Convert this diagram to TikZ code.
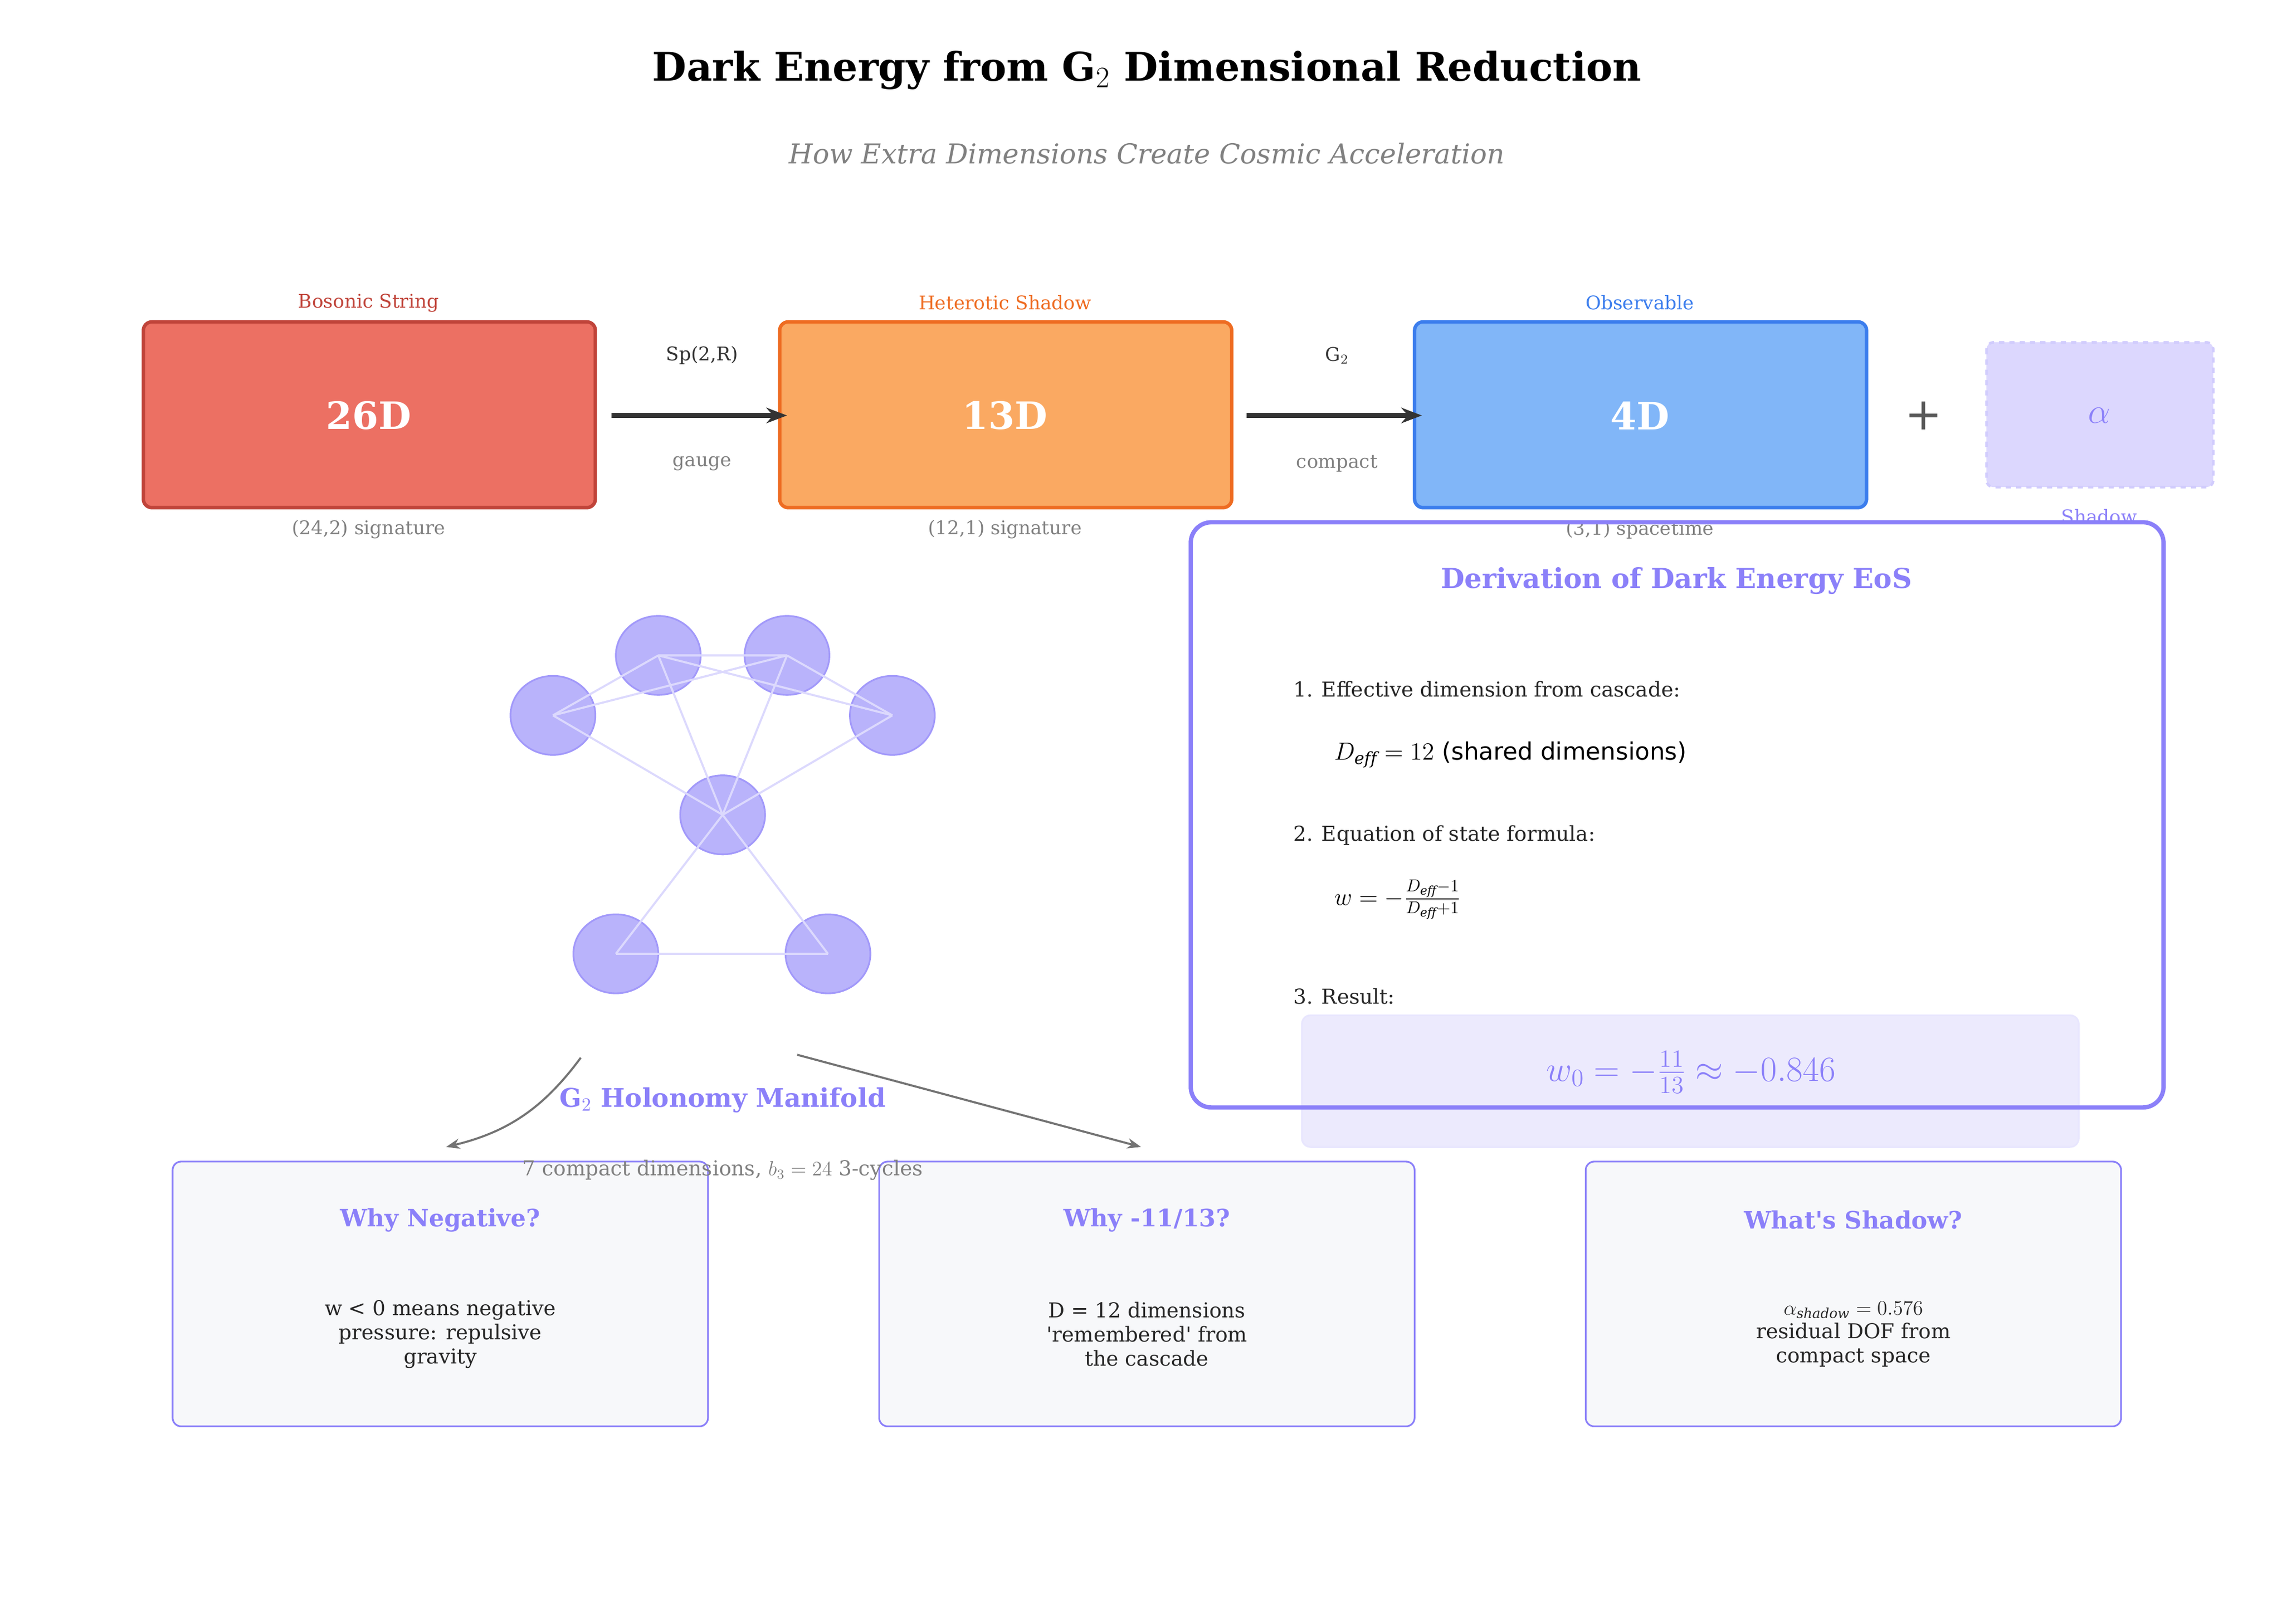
\documentclass[tikz,border=0pt]{standalone}
\usepackage{fontspec}
\setmainfont{DejaVu Serif}
\newfontfamily\dvsans{DejaVu Sans}
\usepackage{amsmath}
\usetikzlibrary{positioning,arrows.meta,shapes.geometric}
\definecolor{ctred}{HTML}{EC7063}
\definecolor{ctredd}{HTML}{C0443A}
\definecolor{ctorg}{HTML}{FAA962}
\definecolor{ctorgd}{HTML}{EE6C22}
\definecolor{ctblue}{HTML}{81B6F8}
\definecolor{ctblued}{HTML}{3B7DED}
\definecolor{ctpur}{HTML}{8B80F9}
\definecolor{ctlav}{HTML}{DCD7FE}
\definecolor{ctres}{HTML}{ECEAFD}
\definecolor{ctgrey}{HTML}{F7F8FA}
\begin{document}
\begin{tikzpicture}[x=0.03cm,y=-0.03cm,
	stage/.style={rounded corners=5pt,line width=2pt},
	tag/.style={font=\fontsize{11}{13}\selectfont},
	small/.style={font=\fontsize{11}{13}\selectfont,text=gray},
	vertex/.style={ellipse,draw=ctpur!80,fill=ctpur!60,line width=1pt,minimum width=1.74cm,minimum height=1.62cm,inner sep=0pt},
	edge/.style={ctpur!30,line width=1.2pt},
	infobox/.style={draw=ctpur,fill=ctgrey,rounded corners=5pt,line width=1pt},
	infotitle/.style={font=\fontsize{14}{16}\selectfont\bfseries,text=ctpur},
	infotext/.style={font=\fontsize{12}{14}\selectfont,text=black!85,align=center}]
\useasboundingbox (0,0) rectangle (1560,1110);
% title
\node[font=\fontsize{23}{27}\selectfont\bfseries] (title) at (784,48) {Dark Energy from G$_2$ Dimensional Reduction};
\node[font=\fontsize{16}{19}\selectfont\itshape,text=gray] (subtitle) at (784,105) {How Extra Dimensions Create Cosmic Acceleration};
% cascade
\draw[stage,draw=ctredd,fill=ctred] (98,220) rectangle (407,347);
\node[font=\fontsize{22}{26}\selectfont\bfseries,text=white] (d26) at (252,284) {26D};
\draw[stage,draw=ctorgd,fill=ctorg] (533,220) rectangle (842,347);
\node[font=\fontsize{22}{26}\selectfont\bfseries,text=white] (d13) at (687,284) {13D};
\draw[stage,draw=ctblued,fill=ctblue] (967,220) rectangle (1276,347);
\node[font=\fontsize{22}{26}\selectfont\bfseries,text=white] (d4) at (1121,284) {4D};
\draw[rounded corners=4pt,line width=1.5pt,dashed,draw=ctpur!40,fill=ctlav] (1358,234) rectangle (1513,333);
\node[font=\fontsize{20}{24}\selectfont\dvsans\itshape,text=ctpur] (alpha) at (1435,284) {$\alpha$};
\node[font=\fontsize{26}{30}\selectfont\dvsans,text=black!65] (plus) at (1315,284) {+};
\node[tag,text=ctredd] at (252,207) {Bosonic String};
\node[tag,text=ctorgd] at (687,207) {Heterotic Shadow};
\node[tag,text=ctblued] at (1121,207) {Observable};
\node[small] at (252,362) {(24,2) signature};
\node[small] at (687,362) {(12,1) signature};
\node[small] at (1121,362) {(3,1) spacetime};
\node[small,text=ctpur] at (1435,353) {Shadow};
\coordinate (a1) at (418,284); \coordinate (a2) at (538,284);
\coordinate (b1) at (852,284); \coordinate (b2) at (972,284);
\draw[-{Stealth[length=12pt]},line width=3pt,black!80] (a1) -- (a2);
\draw[-{Stealth[length=12pt]},line width=3pt,black!80] (b1) -- (b2);
\node[tag,text=black!80] at (480,243) {Sp(2,R)};
\node[small] at (480,317) {gauge};
\node[tag,text=black!80] at (914,243) {G$_2$};
\node[small] at (914,317) {compact};
% G2 manifold
\node[vertex] (vtl) at (450,448) {};
\node[vertex] (vtr) at (538,448) {};
\node[vertex] (vl) at (378,489) {};
\node[vertex] (vr) at (610,489) {};
\node[vertex] (vc) at (494,557) {};
\node[vertex] (vbl) at (421,652) {};
\node[vertex] (vbr) at (566,652) {};
\foreach \a/\b in {vl/vtl,vl/vtr,vtl/vtr,vtl/vr,vtr/vr,vl/vc,vr/vc,vtl/vc,vtr/vc,vc/vbl,vc/vbr,vbl/vbr}
	\draw[edge] (\a.center) -- (\b.center);
\node[font=\fontsize{15}{18}\selectfont\bfseries,text=ctpur] (g2) at (494,752) {G$_2$ Holonomy Manifold};
% derivation
\draw[rounded corners=5pt,draw=ctpur!20,line width=1pt,fill=ctres] (890,694) rectangle (1421,784);
\draw[rounded corners=12pt,line width=2.5pt,draw=ctpur] (814,357) rectangle (1479,757);
\node[font=\fontsize{16}{19}\selectfont\bfseries,text=ctpur] (dtitle) at (1146,397) {Derivation of Dark Energy EoS};
\node[tag,anchor=west,text=black!85,font=\fontsize{12}{14}\selectfont] at (880,471) {1. Effective dimension from cascade:};
\node[anchor=west,font=\fontsize{14}{16}\selectfont\dvsans] at (908,516) {$D_{\mathit{eff}}=12$ (shared dimensions)};
\node[tag,anchor=west,text=black!85,font=\fontsize{12}{14}\selectfont] at (880,571) {2. Equation of state formula:};
\node[anchor=west,font=\fontsize{14}{16}\selectfont\dvsans] at (908,615) {$w=-\frac{D_{\mathit{eff}}-1}{D_{\mathit{eff}}+1}$};
\node[tag,anchor=west,text=black!85,font=\fontsize{12}{14}\selectfont] at (880,681) {3. Result:};
\node[font=\fontsize{20}{24}\selectfont\dvsans,text=ctpur] (res) at (1156,733) {$w_0=-\frac{11}{13}\approx-0.846$};
% bottom boxes
\draw[infobox] (118,794) rectangle (484,975);
\draw[infobox] (601,794) rectangle (967,975);
\draw[infobox] (1084,794) rectangle (1450,975);
\node[small,font=\fontsize{12}{14}\selectfont] (g2sub) at (494,800) {7 compact dimensions, $b_3=24$ 3-cycles};
\node[infotitle] at (301,834) {Why Negative?};
\node[infotitle] at (784,834) {Why -11/13?};
\node[infotitle] at (1267,834) {What\textquotesingle s Shadow?};
\node[infotext] at (301,912) {w < 0 means negative\\pressure: repulsive\\gravity};
\node[infotext] at (784,912) {D = 12 dimensions\\\textquotesingle remembered\textquotesingle{} from\\the cascade};
\node[infotext] at (1267,912) {$\alpha_{\mathit{shadow}}=0.576$\\residual DOF from\\compact space};
% pointers
\coordinate (p1) at (397,723); \coordinate (q1) at (305,784);
\coordinate (p2) at (545,721); \coordinate (q2) at (780,784);
\draw[-{Stealth[length=8pt]},black!55,line width=1.2pt] (p1) to[bend left=20] (q1);
\draw[-{Stealth[length=8pt]},black!55,line width=1.2pt] (p2) -- (q2);
\end{tikzpicture}
\end{document}
